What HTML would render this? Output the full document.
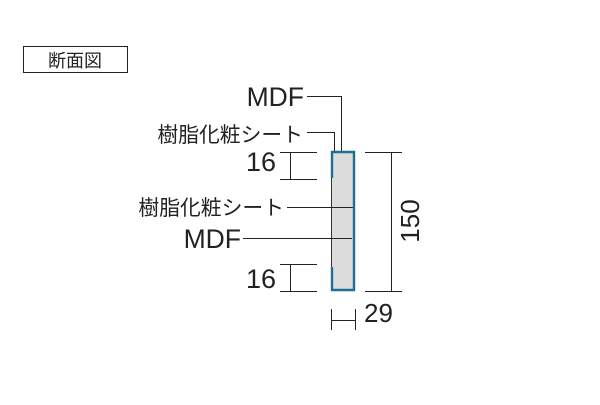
<!DOCTYPE html>
<html><head><meta charset="utf-8"><style>
body{margin:0;background:#fff;}
svg text{font-family:"Liberation Sans","Noto Sans CJK JP",sans-serif;fill:#222;}
</style></head><body>
<svg width="600" height="400" viewBox="0 0 600 400" xmlns="http://www.w3.org/2000/svg">
<rect x="0" y="0" width="600" height="400" fill="#fff"/>
<rect x="23.5" y="46.5" width="104" height="26" fill="none" stroke="#222" stroke-width="1"/>
<text x="75" y="67" font-size="18" text-anchor="middle">断面図</text>

<text x="304" y="106" font-size="26.5" text-anchor="end">MDF</text>
<text x="303" y="142" font-size="20.8" text-anchor="end">樹脂化粧シート</text>
<text x="276" y="171" font-size="27" text-anchor="end">16</text>
<text x="284" y="215" font-size="20.8" text-anchor="end">樹脂化粧シート</text>
<text x="241" y="248" font-size="26.5" text-anchor="end">MDF</text>
<text x="276" y="288" font-size="27" text-anchor="end">16</text>

<rect x="331" y="151" width="24" height="140" fill="#dcdcdc"/>
<line x1="331.5" y1="151" x2="331.5" y2="291" stroke="#333" stroke-width="1"/>

<g stroke="#222" stroke-width="1" fill="none">
<polyline points="307,96.5 341.5,96.5 341.5,152"/>
<polyline points="307,132.5 334.5,132.5 334.5,152"/>
<line x1="287" y1="207.5" x2="354" y2="207.5"/>
<line x1="243" y1="238.5" x2="352" y2="238.5"/>
<line x1="280" y1="152.5" x2="317" y2="152.5"/>
<line x1="280" y1="179.5" x2="317" y2="179.5"/>
<line x1="290.5" y1="152" x2="290.5" y2="180"/>
<line x1="280" y1="264.5" x2="317" y2="264.5"/>
<line x1="280" y1="291.5" x2="317" y2="291.5"/>
<line x1="290.5" y1="264" x2="290.5" y2="292"/>
<line x1="365" y1="152.5" x2="402" y2="152.5"/>
<line x1="365" y1="291.5" x2="402" y2="291.5"/>
<line x1="391.5" y1="152" x2="391.5" y2="292"/>
<line x1="331.5" y1="309" x2="331.5" y2="330"/>
<line x1="355.5" y1="309" x2="355.5" y2="330"/>
<line x1="331" y1="320.5" x2="356" y2="320.5"/>
</g>

<g stroke="#1e6f96" stroke-width="2.4" fill="none">
<polyline points="331,152 354,152 354,290 331,290"/>
<line x1="332" y1="151" x2="332" y2="178"/>
<line x1="332" y1="267" x2="332" y2="291"/>
</g>

<text x="0" y="0" font-size="26" text-anchor="middle" transform="translate(419,221) rotate(-90)">150</text>
<text x="364" y="322" font-size="26">29</text>
</svg>
</body></html>
